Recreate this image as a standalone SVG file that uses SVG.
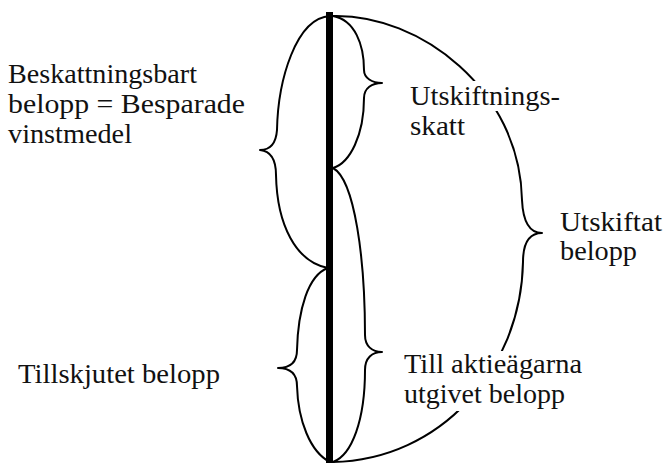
<svg xmlns="http://www.w3.org/2000/svg" width="665" height="465" viewBox="0 0 665 465">
<style>
.t{font-family:"Liberation Serif","Times New Roman",serif;font-size:28px;fill:#111}
.br{fill:none;stroke:#000;stroke-width:2;stroke-linecap:round;stroke-linejoin:round}
.axis{stroke:#000;stroke-width:7}
</style>
<defs>
<mask id="gaps" maskUnits="userSpaceOnUse" x="0" y="0" width="665" height="465">
<rect x="0" y="0" width="665" height="465" fill="#fff"/>
<rect x="455" y="81" width="60" height="30" fill="#000"/>
<rect x="430" y="351" width="90" height="60" fill="#000"/>
</mask>
</defs>
<rect width="665" height="465" fill="#fff"/>
<g id="connectors">
<line id="axis" class="axis" x1="329.5" y1="12" x2="329.5" y2="463"/>
<path id="brace-beskattningsbart" class="br" d="M330,16 C296,18 278,80 277,130 C276,144 270,150 260,150 C270,151 276,158 276,175 C277,225 296,262 328,268"/>
<path id="brace-utskiftningsskatt" class="br" d="M333,16 C355,20 364,45 364,70 C364,78 372,83 382,83 C372,83 364,88 364,98 C364,135 350,163 333,168"/>
<path id="brace-tillskjutet" class="br" d="M328,268 C308,275 298,310 297,350 C297,362 290,368 278,368 C290,368 297,374 297,386 C298,420 310,452 330,462"/>
<path id="brace-aktieagarna" class="br" d="M333,168 C355,180 365,260 365,335 C365,346 372,352 382,352 C372,352 365,358 365,370 C365,420 352,455 333,462"/>
<path id="brace-utskiftat" class="br" mask="url(#gaps)" d="M333,16 C420,14 520,90 522,200 C523,222 530,233 542,233 C530,233 523,242 523,262 C521,370 440,460 333,462"/>
</g>
<g id="node-beskattningsbart">
<text class="t" x="8" y="83" textLength="189" lengthAdjust="spacingAndGlyphs">Beskattningsbart</text>
<text class="t" x="8" y="113" textLength="237" lengthAdjust="spacingAndGlyphs">belopp = Besparade</text>
<text class="t" x="8" y="143" textLength="124" lengthAdjust="spacingAndGlyphs">vinstmedel</text>
</g>
<g id="node-utskiftningsskatt">
<text class="t" x="410" y="105" textLength="150" lengthAdjust="spacingAndGlyphs">Utskiftnings-</text>
<text class="t" x="410" y="135" textLength="55" lengthAdjust="spacingAndGlyphs">skatt</text>
</g>
<g id="node-utskiftat">
<text class="t" x="560" y="231" textLength="102" lengthAdjust="spacingAndGlyphs">Utskiftat</text>
<text class="t" x="560" y="260" textLength="77" lengthAdjust="spacingAndGlyphs">belopp</text>
</g>
<g id="node-tillskjutet">
<text class="t" x="18" y="383" textLength="202" lengthAdjust="spacingAndGlyphs">Tillskjutet belopp</text>
</g>
<g id="node-aktieagarna">
<text class="t" x="404" y="373" textLength="178" lengthAdjust="spacingAndGlyphs">Till aktieägarna</text>
<text class="t" x="404" y="403" textLength="161" lengthAdjust="spacingAndGlyphs">utgivet belopp</text>
</g>
</svg>
